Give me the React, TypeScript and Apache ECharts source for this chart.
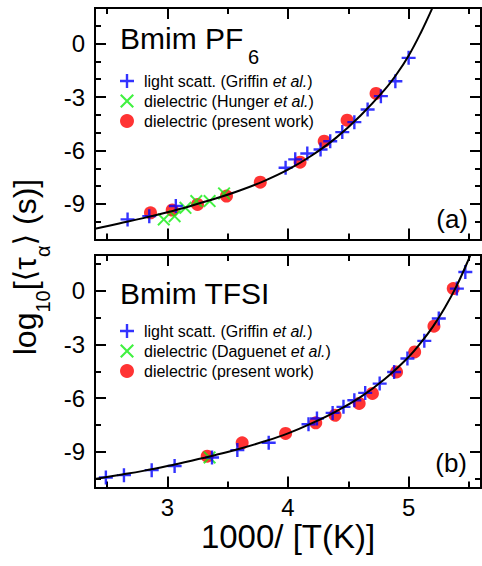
import React, { useEffect, useRef } from 'react';
import * as echarts from 'echarts';

const FONT = "'Liberation Sans', Arial, Helvetica, sans-serif";

// ---------- Panel (a): Bmim PF6 ----------
const pf6GriffinX = [2.67, 2.85, 3.07, 3.98, 4.06, 4.16, 4.27, 4.35, 4.45, 4.55, 4.66, 4.77, 4.89, 5.0];
const pf6GriffinY = [-9.87, -9.69, -9.12, -6.97, -6.5, -6.17, -5.95, -5.48, -4.97, -4.41, -3.7, -2.95, -2.11, -0.8];
const pf6HungerX = [2.97, 3.06, 3.15, 3.24, 3.35, 3.47];
const pf6HungerY = [-9.87, -9.69, -9.22, -8.84, -8.84, -8.41];
const pf6PresentX = [2.86, 3.04, 3.25, 3.49, 3.77, 4.1, 4.3, 4.49, 4.73];
const pf6PresentY = [-9.5, -9.35, -9.03, -8.56, -7.78, -6.66, -5.48, -4.3, -2.8];
const pf6FitX = [2.4, 2.6, 2.8, 3.0, 3.2, 3.4, 3.6, 3.8, 4.0, 4.2, 4.4, 4.6, 4.8, 4.9, 5.0, 5.1, 5.2, 5.25];
const pf6FitY = [-10.4, -10.1, -9.8, -9.47, -9.1, -8.7, -8.25, -7.72, -7.08, -6.27, -5.28, -4.05, -2.6, -1.72, -0.68, 0.6, 2.05, 2.85];

// ---------- Panel (b): Bmim TFSI ----------
const tfsiGriffinX = [2.49, 2.64, 2.87, 3.06, 3.37, 3.58, 3.84, 4.17, 4.24, 4.37, 4.46, 4.55, 4.64, 4.76, 4.88, 4.99, 5.13, 5.25, 5.4, 5.47];
const tfsiGriffinY = [-10.44, -10.31, -10.03, -9.8, -9.32, -8.91, -8.5, -7.46, -7.14, -6.83, -6.49, -6.12, -5.71, -5.19, -4.54, -3.79, -2.8, -1.55, 0.12, 1.05];
const tfsiDaguenetX = [3.35];
const tfsiDaguenetY = [-9.32];
const tfsiPresentX = [3.33, 3.62, 3.98, 4.23, 4.39, 4.59, 4.7, 4.9, 5.05, 5.21, 5.37];
const tfsiPresentY = [-9.25, -8.5, -7.98, -7.38, -6.96, -6.3, -5.74, -4.54, -3.42, -1.98, 0.12];
const tfsiFitX = [2.4, 2.6, 2.8, 3.0, 3.2, 3.4, 3.6, 3.8, 4.0, 4.2, 4.4, 4.6, 4.8, 5.0, 5.1, 5.2, 5.3, 5.4, 5.5, 5.56];
const tfsiFitY = [-10.52, -10.3, -10.07, -9.8, -9.5, -9.18, -8.83, -8.43, -7.97, -7.4, -6.74, -5.95, -4.95, -3.7, -2.92, -2.02, -0.95, 0.3, 1.8, 2.8];

// ---------- Axes ticks / labels ----------
const xMajor = [3, 4, 5];
const xMinor = [2.5, 3.5, 4.5, 5.5];
const yMajor = [-9, -6, -3, 0];
const yMinorA = [-10, -8, -7, -5, -4, -2, -1, 1];
const yMinorB = [-10.5, -7.5, -4.5, -1.5, 1.5];

const NAME_GRIFFIN = 'light scatt. (Griffin et al.)';
const NAME_HUNGER = 'dielectric (Hunger et al.)';
const NAME_DAGUENET = 'dielectric (Daguenet et al.)';
const NAME_PRESENT = 'dielectric (present work)';

const PLUS = 'path://M0,5.8H5.8V0H8.2V5.8H14V8.2H8.2V14H5.8V8.2H0Z';
const CROSS = 'path://M1.5,0L7,5.5L12.5,0L14,1.5L8.5,7L14,12.5L12.5,14L7,8.5L1.5,14L0,12.5L5.5,7L0,1.5Z';

const zip = (xs: number[], ys: number[]) => xs.map((x, i) => [x, ys[i]]);

const LINE = { show: true, onZero: false, lineStyle: { color: '#000', width: 2 } };

function xAxesFor(grid: number, labels: boolean, name?: string) {
  const base = { gridIndex: grid, type: 'value', min: 2.4, max: 5.6, splitLine: { show: false } };
  const mk = (pos: string, vals: number[], len: number, showLabel: boolean, withName: boolean) => ({
    ...base,
    position: pos,
    axisLine: LINE,
    axisTick: { show: true, inside: true, length: len, customValues: vals, lineStyle: { color: '#000', width: 2 } },
    axisLabel: showLabel
      ? { show: true, customValues: vals, color: '#000', fontSize: 24, fontFamily: FONT, margin: 8 }
      : { show: false },
    ...(withName
      ? {
          name,
          nameLocation: 'middle',
          nameGap: 32,
          nameTextStyle: { color: '#000', fontSize: 33, fontFamily: FONT },
        }
      : {}),
  });
  return [
    mk('bottom', xMajor, 11, labels, !!name),
    mk('bottom', xMinor, 6, false, false),
    mk('top', xMajor, 11, false, false),
    mk('top', xMinor, 6, false, false),
  ];
}

function yAxesFor(grid: number, minor: number[]) {
  const base = { gridIndex: grid, type: 'value', min: -11, max: 2, splitLine: { show: false } };
  const mk = (pos: string, vals: number[], len: number, showLabel: boolean) => ({
    ...base,
    position: pos,
    axisLine: LINE,
    axisTick: { show: true, inside: true, length: len, customValues: vals, lineStyle: { color: '#000', width: 2 } },
    axisLabel: showLabel
      ? { show: true, customValues: vals, color: '#000', fontSize: 24, fontFamily: FONT, margin: 10 }
      : { show: false },
  });
  return [
    mk('left', yMajor, 11, true),
    mk('left', minor, 6, false),
    mk('right', yMajor, 11, false),
    mk('right', minor, 6, false),
  ];
}

function seriesFor(
  axis: number,
  present: number[][],
  other: { name: string; data: number[][] },
  griffin: number[][],
  fit: number[][]
) {
  return [
    {
      name: NAME_PRESENT,
      type: 'scatter',
      xAxisIndex: axis,
      yAxisIndex: axis,
      data: present,
      symbol: 'circle',
      symbolSize: 13,
      itemStyle: { color: '#ff0000' },
      z: 2,
    },
    {
      name: other.name,
      type: 'scatter',
      xAxisIndex: axis,
      yAxisIndex: axis,
      data: other.data,
      symbol: CROSS,
      symbolSize: 13,
      itemStyle: { color: '#11ee11' },
      z: 3,
    },
    {
      name: NAME_GRIFFIN,
      type: 'scatter',
      xAxisIndex: axis,
      yAxisIndex: axis,
      data: griffin,
      symbol: PLUS,
      symbolSize: 14,
      itemStyle: { color: '#0000ff' },
      z: 4,
    },
    {
      name: 'fit',
      type: 'line',
      xAxisIndex: axis,
      yAxisIndex: axis,
      data: fit,
      showSymbol: false,
      symbol: 'none',
      smooth: 0.4,
      lineStyle: { color: '#000', width: 2 },
      z: 5,
      silent: true,
    },
  ];
}

const legendFormatter = (name: string) => name.replace('et al.', '{i|et al.}');

function legendFor(top: number, names: string[]) {
  return {
    orient: 'vertical',
    left: 115,
    top,
    itemWidth: 24,
    itemHeight: 14,
    itemGap: 4,
    selectedMode: false,
    data: names,
    formatter: legendFormatter,
    textStyle: {
      color: '#000',
      fontSize: 16,
      lineHeight: 16,
      fontFamily: FONT,
      rich: { i: { fontStyle: 'italic', fontSize: 16, lineHeight: 16, fontFamily: FONT, color: '#000' } },
    },
  };
}

export default function App() {
  const ref = useRef<HTMLDivElement>(null);

  useEffect(() => {
    if (!ref.current) return;
    const chart = echarts.init(ref.current, undefined, { renderer: 'svg' });

    const yTitle = {
      type: 'text',
      x: 27,
      y: 267,
      rotation: Math.PI / 2,
      style: {
        text: '{m|log}{s|10}{m|[}{b|\u27E8}{m|\u03C4}{s|\u03B1}{b|\u27E9}{m| (s)]}',
        align: 'center',
        verticalAlign: 'middle',
        fill: '#000',
        rich: {
          m: { fontSize: 32, fontFamily: FONT, lineHeight: 36, verticalAlign: 'top', fill: '#000' },
          s: { fontSize: 20, fontFamily: FONT, lineHeight: 20, padding: [24, 0, 0, 0], verticalAlign: 'top', fill: '#000' },
          b: { fontSize: 30, fontFamily: "'DejaVu Sans', sans-serif", lineHeight: 36, verticalAlign: 'top', fill: '#000' },
        },
      },
    };

    const txt = (text: string, x: number, y: number, size: number, align = 'left') => ({
      type: 'text',
      x,
      y,
      style: { text, fontSize: size, fontFamily: FONT, fill: '#000', align, verticalAlign: 'middle' },
    });

    const option = {
      animation: false,
      backgroundColor: '#fff',
      grid: [
        { left: 95, top: 8, width: 386, height: 231.5 },
        { left: 95, top: 255, width: 386, height: 232.5 },
      ],
      xAxis: [...xAxesFor(0, false), ...xAxesFor(1, true, '1000/ [T(K)]')],
      yAxis: [...yAxesFor(0, yMinorA), ...yAxesFor(1, yMinorB)],
      legend: [
        legendFor(68, [NAME_GRIFFIN, NAME_HUNGER, NAME_PRESENT]),
        legendFor(318, [NAME_GRIFFIN, NAME_DAGUENET, NAME_PRESENT]),
      ],
      series: [
        ...seriesFor(0, zip(pf6PresentX, pf6PresentY), { name: NAME_HUNGER, data: zip(pf6HungerX, pf6HungerY) }, zip(pf6GriffinX, pf6GriffinY), zip(pf6FitX, pf6FitY)),
        ...seriesFor(4, zip(tfsiPresentX, tfsiPresentY), { name: NAME_DAGUENET, data: zip(tfsiDaguenetX, tfsiDaguenetY) }, zip(tfsiGriffinX, tfsiGriffinY), zip(tfsiFitX, tfsiFitY)),
      ],
      graphic: [
        txt('Bmim PF', 120, 38, 30),
        txt('6', 248, 57, 20),
        txt('Bmim TFSI', 120, 293, 30),
        txt('(a)', 468, 219, 26, 'right'),
        txt('(b)', 467, 463, 26, 'right'),
        yTitle,
      ],
    };

    chart.setOption(option as any);
    return () => chart.dispose();
  }, []);

  return (
    <div
      ref={ref}
      style={{ position: 'fixed', left: 0, top: 0, width: 482, height: 566, background: '#fff' }}
    />
  );
}
